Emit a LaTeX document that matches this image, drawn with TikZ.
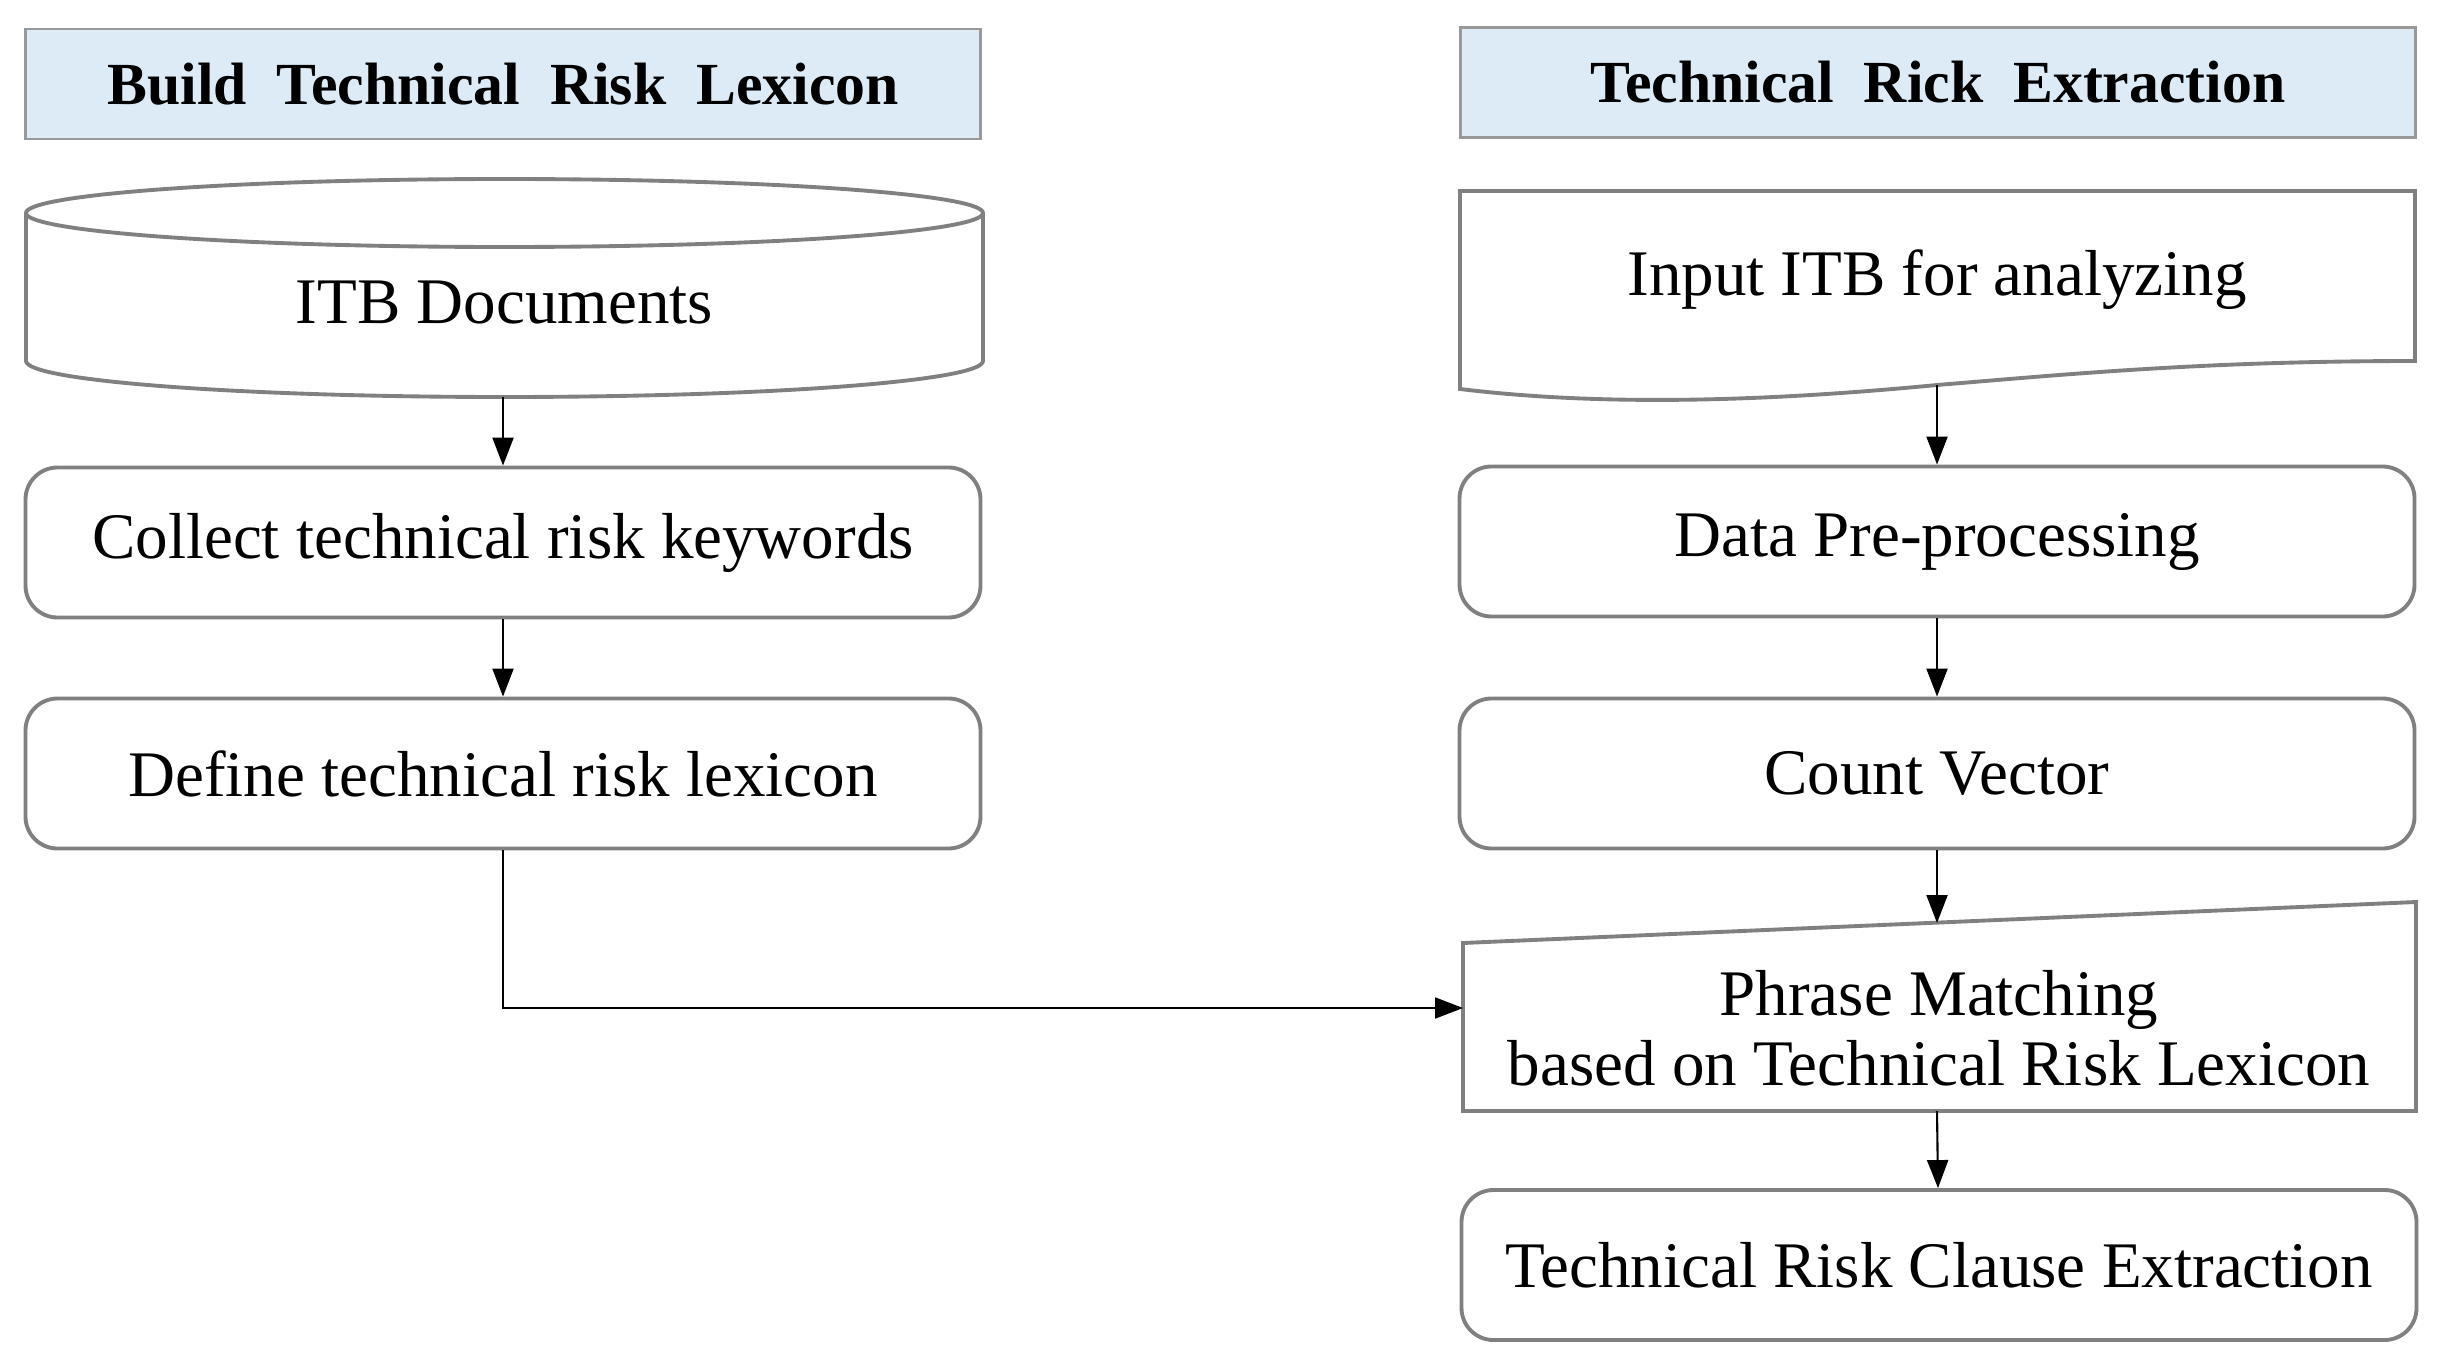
\documentclass[tikz,border=0pt]{standalone}
\usepackage{fontspec}
\setmainfont{Liberation Serif}
\usepackage{tikz}
\usetikzlibrary{arrows.meta}
\definecolor{headblue}{RGB}{221,235,247}
\definecolor{framegray}{RGB}{128,128,128}

\begin{document}
\begin{tikzpicture}[
        font=\fontsize{18.5}{20}\selectfont,
        head/.style={draw=framegray!80, line width=0.7pt, fill=headblue, minimum width=9.55cm, minimum height=1.1cm, font=\fontsize{17}{20}\selectfont\bfseries},
        stepbox/.style={draw=framegray, line width=1.1pt, rounded corners=0.32cm, minimum width=9.55cm, minimum height=1.5cm},
        frame/.style={draw=framegray, line width=1.1pt},
        flow/.style={-{Triangle[length=2.8mm, width=2.1mm]}, line width=0.6pt}]
        \useasboundingbox (0, 0) rectangle (24.4, 13.7);
        \node[head] (lhead) at (5.03, 12.86) {Build~ Technical~ Risk~ Lexicon};
        \node[head] (rhead) at (19.38, 12.875) {Technical~ Rick~ Extraction};
        \draw[frame] (0.26, 11.57) -- (0.26, 10.09) arc[start angle=180, end angle=360, x radius=4.785, y radius=0.36] -- (9.83, 11.57);
        \draw[frame] (5.045, 11.57) ellipse[x radius=4.785, y radius=0.34];
        \node (itb) at (5.045, 10.67) {ITB Documents};
        \coordinate (itbb) at (5.03, 9.73);
        \node[stepbox] (collect) at (5.03, 8.275) {Collect technical risk keywords};
        \node[stepbox] (define) at (5.03, 5.965) {Define technical risk lexicon};
        \draw[frame] (14.6, 11.79) -- (24.15, 11.79) -- (24.15, 10.09) .. controls (22.0, 10.09) and (20.6, 9.95) .. (19.37, 9.85) .. controls (17.6, 9.68) and (16.0, 9.64) .. (14.6, 9.81) -- cycle;
        \node (input) at (19.37, 10.9) {Input ITB for analyzing};
        \coordinate (inputb) at (19.37, 9.85);
        \node[stepbox] (prep) at (19.37, 8.285) {Data Pre-processing};
        \node[stepbox] (count) at (19.37, 5.965) {Count Vector};
        \draw[frame] (14.63, 4.27) -- (24.16, 4.68) -- (24.16, 2.59) -- (14.63, 2.59) -- cycle;
        \node[align=center] (match) at (19.39, 3.42) {Phrase Matching\\based on Technical Risk Lexicon};
        \coordinate (matcht) at (19.37, 4.47);
        \coordinate (matchl) at (14.63, 3.62);
        \coordinate (matchb) at (19.37, 2.59);
        \node[stepbox] (clause) at (19.39, 1.05) {Technical Risk Clause Extraction};
        \draw[flow] (itbb) -- (collect);
        \draw[flow] (collect) -- (define);
        \draw[flow] (define.south) |- (matchl);
        \draw[flow] (inputb) -- (prep);
        \draw[flow] (prep) -- (count);
        \draw[flow] (count) -- (matcht);
        \draw[flow] (matchb) -- (clause);
    \end{tikzpicture}
\end{document}
